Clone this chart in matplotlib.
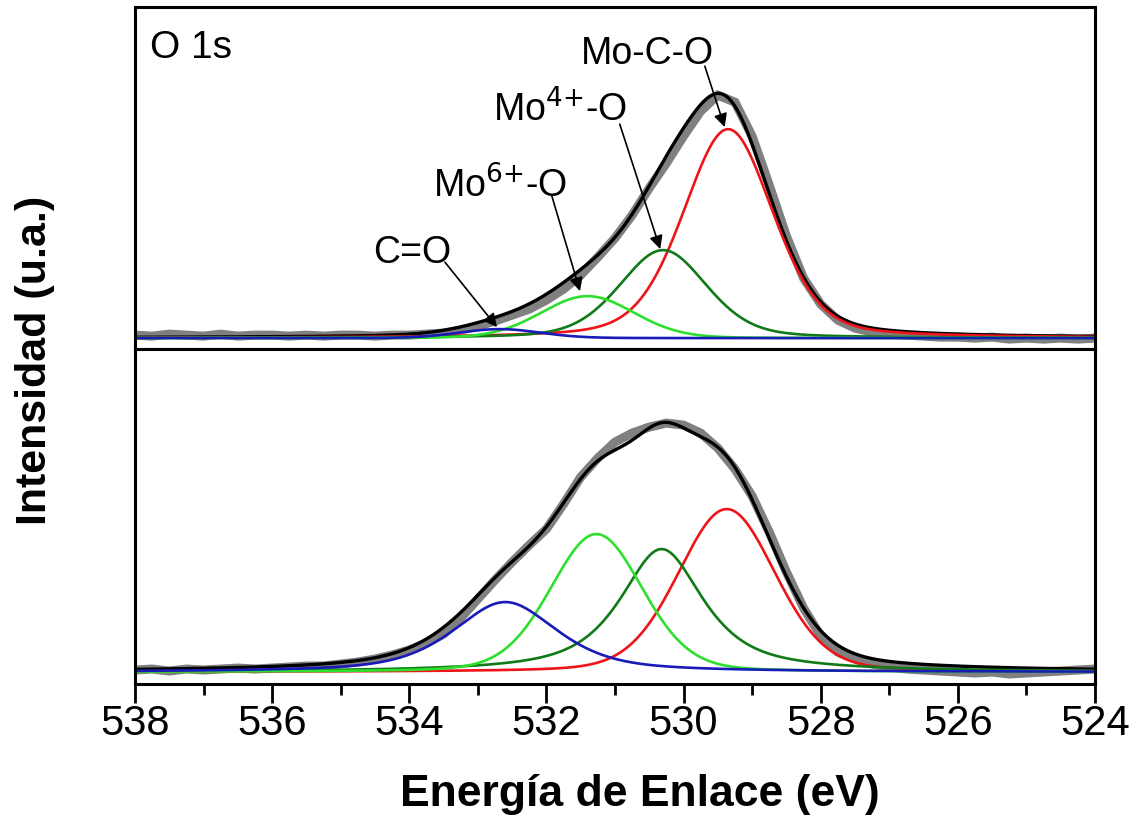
import numpy as np
import matplotlib
matplotlib.use('Agg')
import matplotlib.pyplot as plt

plt.rcParams['font.family'] = ['Liberation Sans', 'DejaVu Sans']
plt.rcParams['mathtext.default'] = 'regular'

# energía de enlace de los espectros medidos (538 -> 524 eV, paso 0.25 eV)
energia = np.linspace(538.0, 524.0, 57)

# espectro medido, muestra superior
medido_sup = [3, 2, 4, 3, 2, 4, 2, 3, 3, 2, 3, 2, 3, 3, 2, 3,
              3, 4, 5, 8, 12, 17, 23, 29, 38, 49, 63, 81, 100, 123, 150, 175,
              202, 227, 243, 236, 202, 153, 102, 60, 34, 18, 10, 6, 4, 3, 2, 1,
              1, 0, 1, -1, 0, -1, 0, -1, 0]

# espectro medido, muestra inferior
medido_inf = [2, 3, 1, 3, 2, 3, 4, 3, 4, 5, 6, 6, 8, 10, 13, 17,
              22, 29, 38, 54, 73, 92, 110, 127, 143, 168, 195, 214, 230, 239, 245, 249,
              247, 239, 224, 203, 176, 140, 100, 64, 36, 20, 13, 8, 5, 3, 2, 1,
              0, -1, 0, -2, -1, 0, 1, 2, 3]

# componentes del ajuste: Mo-C-O, Mo4+-O, Mo6+-O, C=O
colores = ['#ee1419', '#107a18', '#2ee02e', '#1a1ab8']

centros_sup = [529.35, 530.30, 531.40, 532.68]
alturas_sup = [209, 88, 42, 9]
anchos_sup = [1.55, 1.50, 1.60, 1.40]
eta_sup = [0.3, 0.3, 0.1, 0.1]

centros_inf = [529.37, 530.32, 531.27, 532.60]
alturas_inf = [163, 123, 138, 70]
anchos_inf = [1.68, 1.45, 1.59, 1.80]
eta_inf = [0.2, 0.8, 0.2, 0.6]


def pseudo_voigt(x, c, h, w, eta):
    g = np.exp(-4 * np.log(2) * ((x - c) / w) ** 2)
    l = 1 / (1 + 4 * ((x - c) / w) ** 2)
    return h * (eta * l + (1 - eta) * g)


def dibujar_panel(ax, medido, centros, alturas, anchos, etas):
    x = np.linspace(538, 524, 1401)
    ax.plot(energia, medido, color='#808080', lw=6.5, marker='s', ms=5,
            mew=0, solid_joinstyle='miter')
    total = np.zeros_like(x)
    comps = []
    for c, h, w, e in zip(centros, alturas, anchos, etas):
        y = pseudo_voigt(x, c, h, w, e)
        total += y
        comps.append(y)
    ax.plot(x, total, color='black', lw=2.4)
    for y, col in zip(comps, colores):
        ax.plot(x, y, color=col, lw=1.9)


fig = plt.figure(figsize=(11.34, 8.2), dpi=100)
gs = fig.add_gridspec(2, 1, height_ratios=[342, 335], hspace=0,
                      left=0.119, right=0.9656, top=0.990, bottom=0.1646)
ax1 = fig.add_subplot(gs[0])
ax2 = fig.add_subplot(gs[1], sharex=ax1)

dibujar_panel(ax1, medido_sup, centros_sup, alturas_sup, anchos_sup, eta_sup)
dibujar_panel(ax2, medido_inf, centros_inf, alturas_inf, anchos_inf, eta_inf)

ax1.set_ylim(-11, 331)
ax2.set_ylim(-12, 323)
ax2.set_xlim(538, 524)

for ax in (ax1, ax2):
    for s in ax.spines.values():
        s.set_linewidth(2.2)
    ax.set_yticks([])

ax1.tick_params(axis='x', which='both', bottom=False, labelbottom=False)
ax2.set_xticks(np.arange(538, 523, -2))
ax2.set_xticks(np.arange(537, 524, -2), minor=True)
ax2.tick_params(axis='x', which='major', direction='out', length=14, width=2,
                labelsize=30, pad=0)
ax2.tick_params(axis='x', which='minor', direction='out', length=8, width=2)

# etiquetas de los picos
ax1.text(537.78, 281, 'O 1s', ha='left', va='baseline', fontsize=28)
flechas = [
    ('C=O', (533.96, 76), (533.48, 76), (532.72, 11)),
    (r'Mo$^{\text{6+}}$-O', (532.68, 142), (531.92, 142), (531.51, 47)),
    (r'Mo$^{\text{4+}}$-O', (531.80, 218), (530.93, 214), (530.34, 89)),
    ('Mo-C-O', (530.52, 275), (529.69, 272), (529.40, 211)),
]
for texto, pos, inicio, punta in flechas:
    ax1.text(pos[0], pos[1], texto, ha='center', va='baseline', fontsize=27)
    ax1.annotate('', xy=punta, xytext=inicio,
                 arrowprops=dict(arrowstyle='-|>', color='black', lw=1.2,
                                 mutation_scale=20, shrinkA=0, shrinkB=0))

fig.text(0.564, 0.031, 'Energía de Enlace (eV)', ha='center', va='center',
         fontsize=32, fontweight='bold')
fig.text(0.031, 0.561, 'Intensidad (u.a.)', ha='center', va='center',
         rotation=90, fontsize=31, fontweight='bold')

fig.savefig('out.png', dpi=100)
